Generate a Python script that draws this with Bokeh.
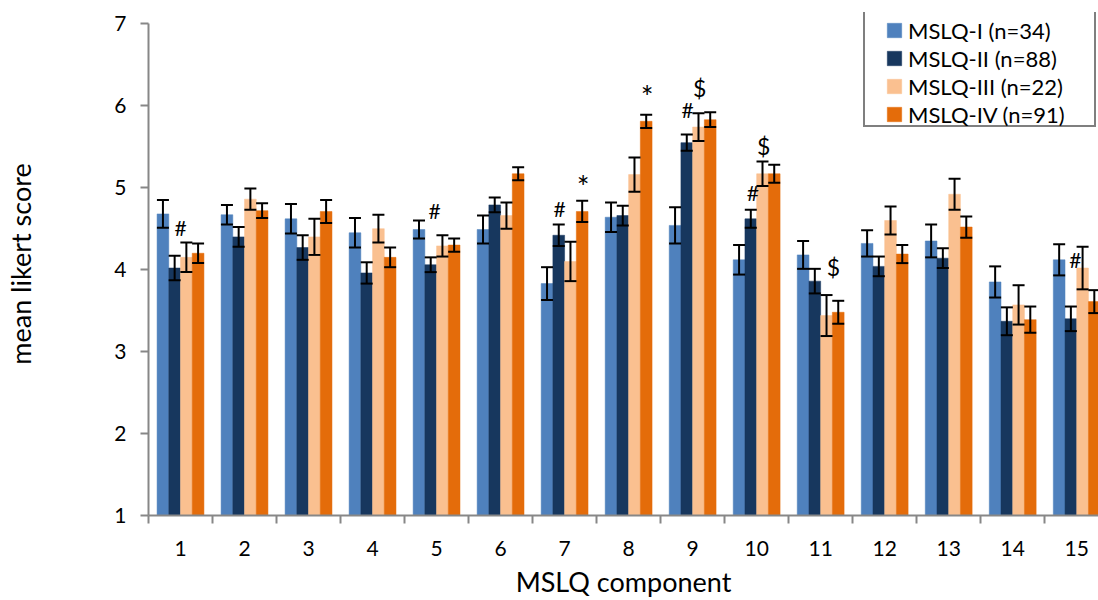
from bokeh.plotting import figure
from bokeh.models import (ColumnDataSource, Whisker, TeeHead, FixedTicker, Legend,
                          LegendItem, Range1d)
from bokeh.core.properties import value
from bokeh.embed import file_html
from bokeh.resources import INLINE

# ---------------- data ----------------
components = list(range(1, 16))
series_names = ["MSLQ-I (n=34)", "MSLQ-II (n=88)", "MSLQ-III (n=22)", "MSLQ-IV (n=91)"]

mslq1_mean = [4.68, 4.67, 4.62, 4.45, 4.49, 4.49, 3.83, 4.64, 4.54, 4.12, 4.18, 4.32, 4.35, 3.85, 4.12]
mslq1_err = [0.17, 0.12, 0.18, 0.18, 0.11, 0.17, 0.20, 0.18, 0.22, 0.18, 0.17, 0.16, 0.20, 0.19, 0.19]
mslq2_mean = [4.02, 4.40, 4.27, 3.96, 4.06, 4.79, 4.42, 4.66, 5.55, 4.62, 3.86, 4.04, 4.14, 3.37, 3.40]
mslq2_err = [0.15, 0.12, 0.15, 0.13, 0.09, 0.09, 0.13, 0.12, 0.10, 0.11, 0.15, 0.12, 0.12, 0.17, 0.15]
mslq3_mean = [4.15, 4.86, 4.40, 4.50, 4.29, 4.66, 4.10, 5.16, 5.74, 5.17, 3.44, 4.60, 4.92, 3.57, 4.02]
mslq3_err = [0.18, 0.13, 0.22, 0.17, 0.13, 0.16, 0.24, 0.21, 0.17, 0.15, 0.25, 0.17, 0.19, 0.24, 0.26]
mslq4_mean = [4.20, 4.72, 4.71, 4.15, 4.30, 5.17, 4.71, 5.81, 5.83, 5.17, 3.48, 4.19, 4.52, 3.39, 3.61]
mslq4_err = [0.12, 0.09, 0.14, 0.12, 0.08, 0.08, 0.13, 0.08, 0.09, 0.11, 0.14, 0.11, 0.13, 0.16, 0.14]

y_ticks = [1, 2, 3, 4, 5, 6, 7]

ann_symbols = ["#", "#", "#", "*", "*", "#", "$", "#", "$", "$", "#"]
ann_x = [1.00, 4.97, 6.92, 7.29, 8.29, 8.92, 9.11, 9.94, 10.11, 11.20, 14.98]
ann_y = [4.52, 4.72, 4.75, 5.02, 6.12, 5.96, 6.22, 4.94, 5.51, 4.03, 4.12]

# ---------------- style ----------------
colors = ["#4F81BD", "#17375E", "#FAC090", "#E46C0A"]
FONT = "Lato"
AXIS_COLOR = "#878787"
bar_w = 0.183
offsets = [-1.5 * bar_w, -0.5 * bar_w, 0.5 * bar_w, 1.5 * bar_w]

# frame spans a little above 7 so the legend (which sits above the top tick) is not clipped
p = figure(width=1098, height=600, output_backend="svg", toolbar_location=None,
           x_range=Range1d(0.5, 15.34), y_range=Range1d(1, 7.138),
           min_border_left=148, min_border_right=0, min_border_top=12,
           min_border_bottom=85)
p.outline_line_color = None
p.grid.visible = False
p.background_fill_color = "white"
p.border_fill_color = "white"

means = [mslq1_mean, mslq2_mean, mslq3_mean, mslq4_mean]
errs = [mslq1_err, mslq2_err, mslq3_err, mslq4_err]

bar_renderers = []
for k in range(4):
    xs = [c + offsets[k] for c in components]
    src = ColumnDataSource(dict(
        x=xs, top=means[k],
        upper=[m + e for m, e in zip(means[k], errs[k])],
        lower=[m - e for m, e in zip(means[k], errs[k])],
    ))
    r = p.vbar(x="x", top="top", bottom=1, width=bar_w, source=src,
               fill_color=colors[k], line_color=colors[k], line_width=0.5)
    bar_renderers.append(r)
    w = Whisker(source=src, base="x", upper="upper", lower="lower",
                dimension="height", line_color="black", line_width=2,
                level="annotation",
                upper_head=TeeHead(size=12, line_color="black", line_width=2),
                lower_head=TeeHead(size=12, line_color="black", line_width=2))
    p.add_layout(w)

# significance markers
sym_size = {"#": "21px", "$": "23px", "*": "30px"}
p.text(x=ann_x, y=ann_y, text=ann_symbols, text_font=value(FONT),
       text_font_size=[sym_size[s] for s in ann_symbols],
       text_align="center", text_baseline="middle", text_color="black")

# ---------------- axes ----------------
p.xaxis.ticker = FixedTicker(ticks=components,
                             minor_ticks=[c - 0.5 for c in components] + [15.5])
p.xaxis.major_tick_out = 0
p.xaxis.major_tick_in = 0
p.xaxis.minor_tick_out = 8
p.xaxis.minor_tick_in = 0
p.xaxis.minor_tick_line_color = AXIS_COLOR
p.xaxis.minor_tick_line_width = 2
p.xaxis.major_label_standoff = 17
p.xaxis.axis_label = "MSLQ component"
p.xaxis.axis_label_standoff = 6

p.yaxis.ticker = FixedTicker(ticks=y_ticks, minor_ticks=[])
p.yaxis.bounds = (1, 7)
p.yaxis.major_tick_out = 8
p.yaxis.major_tick_in = 0
p.yaxis.major_tick_line_color = AXIS_COLOR
p.yaxis.major_tick_line_width = 2
p.yaxis.major_label_standoff = 14
p.yaxis.axis_label = "mean likert score"
p.yaxis.axis_label_standoff = 74

for ax in (p.xaxis[0], p.yaxis[0]):
    ax.axis_line_color = AXIS_COLOR
    ax.axis_line_width = 2
    ax.major_label_text_font = FONT
    ax.major_label_text_font_size = "21px"
    ax.major_label_text_color = "black"
    ax.axis_label_text_font = FONT
    ax.axis_label_text_font_size = "27px"
    ax.axis_label_text_font_style = "normal"
    ax.axis_label_text_color = "black"

# ---------------- legend ----------------
# outer box
dummy = p.vbar(x=[], top=[], width=0.1, fill_alpha=0, line_alpha=0)
leg_box = Legend(items=[LegendItem(label=" ", renderers=[dummy])],
                 location=(715, 388), padding=0, margin=0, spacing=0,
                 glyph_width=20, glyph_height=113, label_width=209,
                 label_height=113, label_standoff=0,
                 border_line_color="black", border_line_width=2,
                 background_fill_color="white", background_fill_alpha=1)
p.add_layout(leg_box)

# entries
leg = Legend(items=[LegendItem(label=series_names[k], renderers=[bar_renderers[k]])
                    for k in range(4)],
             location=(737, 387), padding=0, margin=0, spacing=0,
             glyph_width=18, glyph_height=18, label_height=28,
             label_standoff=5, border_line_alpha=0, background_fill_alpha=0,
             label_text_font=FONT, label_text_font_size="22px",
             label_text_color="black")
p.add_layout(leg)

open("out.html", "w").write(file_html(p, INLINE))
